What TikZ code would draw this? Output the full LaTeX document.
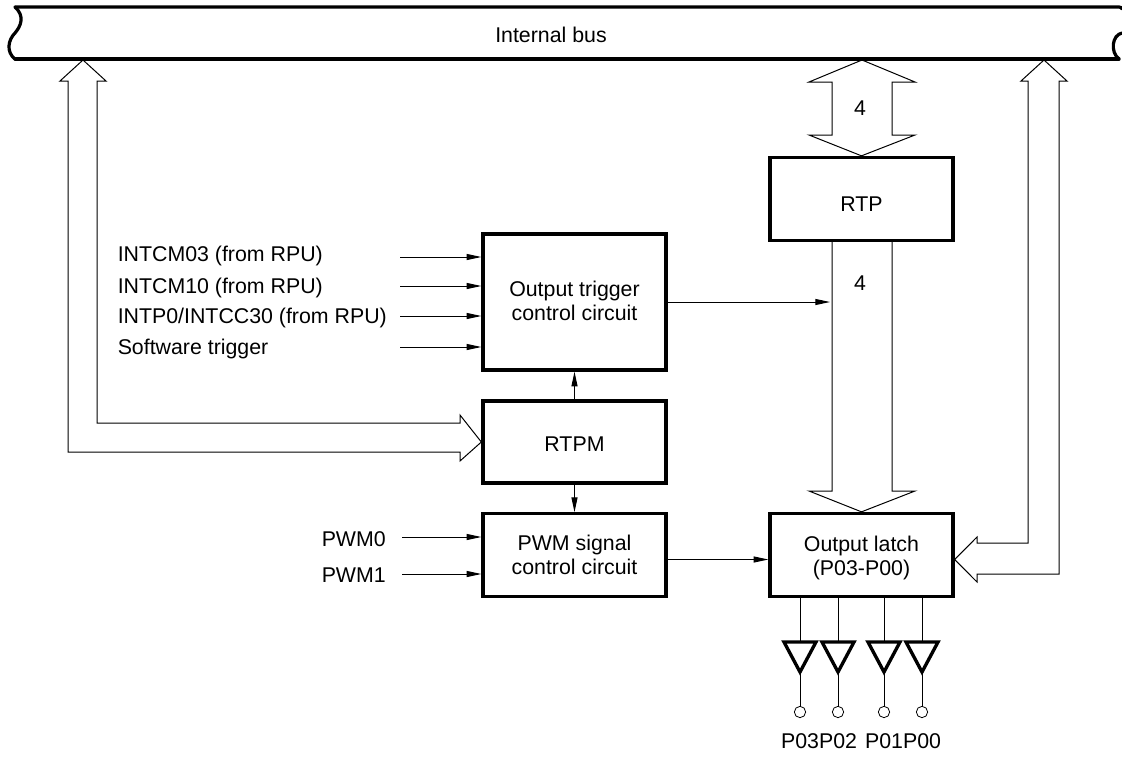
\documentclass[tikz,border=0pt]{standalone}
\usepackage{fontspec}
\setmainfont{Liberation Sans}
\usetikzlibrary{arrows.meta}
\newcommand{\blktext}[3]{\raisebox{#1}[0pt][0pt]{\begin{tabular}[b]{@{}c@{}}#2\\#3\end{tabular}}}
\newcommand{\blkone}[2]{\raisebox{#1}[0pt][0pt]{#2}}
\tikzset{
 blk/.style={draw,line width=2.5pt,minimum width=137.25pt,inner sep=0pt,font=\fontsize{16}{18}\selectfont},
 lbl/.style={inner sep=0pt,font=\fontsize{16}{18}\selectfont},
 sig/.style={line width=0.75pt,-{Triangle[length=11pt,width=4.5pt]}},
 wide/.style={line width=0.75pt,line join=miter},
 buf/.style={line width=2.5pt,line join=miter},
 thin/.style={line width=0.75pt},
 pin/.style={circle,draw,line width=0.6pt,minimum size=8.5pt,inner sep=0pt},
 busline/.style={line width=2.4pt,line cap=round}
}
\begin{document}
\begin{tikzpicture}[x=0.75pt,y=-0.75pt]
\useasboundingbox (0,0) rectangle (1122,758);
% bus
\draw[busline] (15,7) -- (1119,7) .. controls (1121,7) and (1122,8) .. (1122,9);
\draw[busline] (15,59) -- (1119,59);
\draw[busline] (15,7) .. controls (25,16) and (21,26) .. (15,33) .. controls (8,40) and (6,52) .. (15,59);
\draw[busline] (1122,33) .. controls (1112,35) and (1110,52) .. (1119,59);
\node[lbl,anchor=base] (bus) at (551,42) {Internal bus};
% blocks
\node[blk,minimum height=102pt] (trig) at (574.5,302) {\blktext{-13.5pt}{Output trigger\hspace{4pt}}{control circuit}};
\node[blk,minimum height=61.5pt] (rtpm) at (574.5,442) {\blkone{-6.75pt}{RTPM}};
\node[blk,minimum height=62.25pt] (pwm) at (574.5,555.3) {\blktext{-14.6pt}{PWM signal}{control circuit}};
\node[blk,minimum height=62.25pt] (rtp) at (861.5,199) {\blkone{-9pt}{RTP}};
\node[blk,minimum height=62.25pt] (latch) at (861.5,555) {\blktext{-15pt}{Output latch}{(P03-P00)}};
% wide arrows
\coordinate (busL) at (83,60);
\coordinate (busR) at (1044,60);
\coordinate (busM) at (862,60);
\coordinate (lat) at (861.5,559.5);
\draw[wide] (busL) -- (106,81) -- (97,81) -- (97,423) -- (460,423) -- (460,415) -- (rtpm.west) -- (460,461) -- (460,452) -- (68,452) -- (68,81) -- (60,81) -- cycle;
\draw[wide] (busR) -- (1067,81) -- (1059,81) -- (1059,574) -- (977,574) -- (977,582) -- (latch.east |- lat) -- (977,537) -- (977,543) -- (1028,543) -- (1028,81) -- (1021,81) -- cycle;
\draw[wide] (busM) -- (915,82) -- (892,82) -- (892,135) -- (915,135) -- (rtp.north) -- (809,135) -- (832,135) -- (832,82) -- (809,82) -- cycle;
\draw[wide] (rtp.south -| 832,0) -- (832,491) -- (809,491) -- (latch.north) -- (915,491) -- (892,491) -- (rtp.south -| 892,0);
\node[lbl,anchor=base] (n4a) at (860,115) {4};
\node[lbl,anchor=base] (n4b) at (860,290) {4};
% input labels and arrows
\node[lbl,anchor=base west] (l1) at (117.5,261) {INTCM03 (from RPU)};
\node[lbl,anchor=base west] (l2) at (117.5,293) {INTCM10 (from RPU)};
\node[lbl,anchor=base west] (l3) at (117.5,323) {INTP0/INTCC30 (from RPU)};
\node[lbl,anchor=base west] (l4) at (117.5,354) {Software trigger};
\node[lbl,anchor=base west] (l5) at (321.5,546) {PWM0};
\node[lbl,anchor=base west] (l6) at (321.5,582) {PWM1};
\foreach \n/\y in {a/257,b/286,c/316,d/347}{\coordinate (s\n) at (400,\y);}
\foreach \n/\y in {e/537,f/574}{\coordinate (s\n) at (402,\y);}
\foreach \n in {a,b,c,d}{\draw[sig] (s\n) -- (trig.west |- s\n);}
\foreach \n in {e,f}{\draw[sig] (s\n) -- (pwm.west |- s\n);}
% internal connectors
\coordinate (busin) at (830,302);
\draw[sig] (trig.east |- busin) -- (busin);
\draw[sig] (rtpm.north) -- (trig.south);
\draw[sig] (rtpm.south) -- (pwm.north);
\draw[sig] (pwm.east |- lat) -- (latch.west |- lat);
% output buffers
\foreach \n/\x/\t in {1/800/P03,2/838/P02,3/884/P01,4/922/P00}{
  \coordinate (t\n) at (\x,642);
  \node[pin] (p\n) at (\x,712) {};
  \draw[thin] (latch.south -| t\n) -- (t\n);
  \draw[buf] (\x-16,642) -- (\x+16,642) -- (\x,672) -- cycle;
  \draw[thin] (\x,672) -- (p\n);
  \node[lbl,anchor=base] (q\n) at (\x,748) {\t};
}
\end{tikzpicture}
\end{document}
